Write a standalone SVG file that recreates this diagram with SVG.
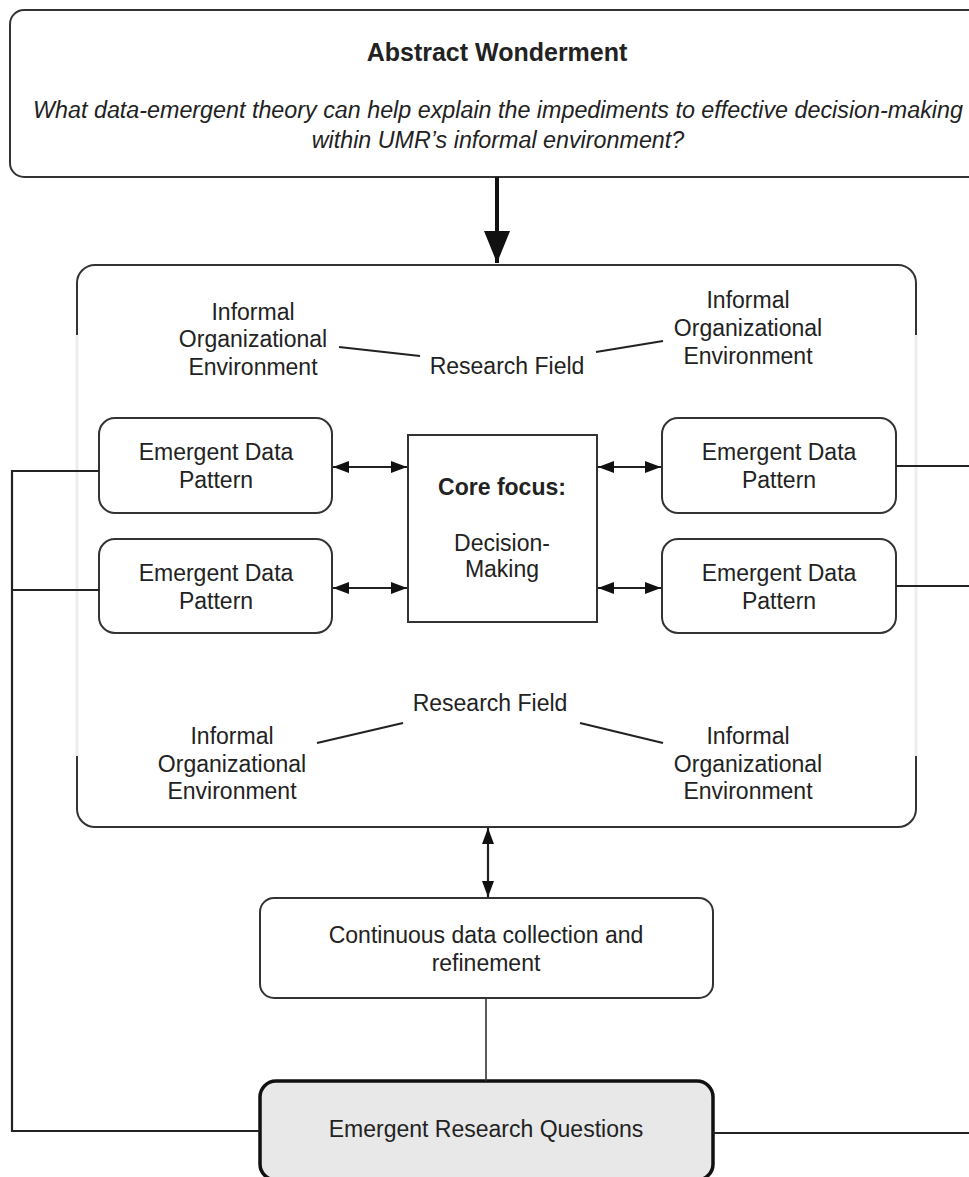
<svg xmlns="http://www.w3.org/2000/svg" width="969" height="1177" viewBox="0 0 969 1177">
  <style>
    .box { fill: #ffffff; stroke: #333333; stroke-width: 2; }
    .t { font-family: "Liberation Sans", Arial, sans-serif; font-size: 23px; fill: #222222; text-anchor: middle; }
    .b { font-weight: bold; }
    .title { font-size: 25px; }
    .i { font-style: italic; font-size: 23.3px; }
    .ln { fill: none; stroke: #222222; stroke-width: 2.2; }
    .thin { fill: none; stroke: #333333; stroke-width: 1.6; }
  </style>
  <defs>
    <marker id="head" viewBox="0 0 16 12" refX="16" refY="6" markerWidth="16" markerHeight="12" markerUnits="userSpaceOnUse" orient="auto-start-reverse">
      <path d="M0,0 L16,6 L0,12 z" fill="#111111"/>
    </marker>
    <marker id="bighead" viewBox="0 0 32 26" refX="32" refY="13" markerWidth="32" markerHeight="26" markerUnits="userSpaceOnUse" orient="auto">
      <path d="M0,0 L32,13 L0,26 z" fill="#111111"/>
    </marker>
  </defs>

  <rect width="969" height="1177" fill="#ffffff"/>

  <!-- top question box -->
  <g id="abstract-wonderment">
    <rect class="box" x="10" y="10" width="990" height="167" rx="14"/>
    <text class="t b title" x="497" y="61">Abstract Wonderment</text>
    <text class="t i" x="498" y="118">What data-emergent theory can help explain the impediments to effective decision-making</text>
    <text class="t i" x="498" y="148">within UMR’s informal environment?</text>
  </g>

  <!-- research field container -->
  <g id="research-field">
    <rect class="box" x="77" y="265" width="839" height="562" rx="18"/>
    <!-- faded middle stretch of the side borders -->
    <line x1="77" y1="335" x2="77" y2="756" stroke="#ededed" stroke-width="3"/>
    <line x1="916" y1="335" x2="916" y2="756" stroke="#ededed" stroke-width="3"/>
    <text class="t" x="507" y="374">Research Field</text>
    <text class="t" x="490" y="711">Research Field</text>
  </g>

  <g id="env-top-left">
    <text class="t" x="253" y="320">Informal</text>
    <text class="t" x="253" y="347">Organizational</text>
    <text class="t" x="253" y="375">Environment</text>
  </g>
  <g id="env-top-right">
    <text class="t" x="748" y="308">Informal</text>
    <text class="t" x="748" y="336">Organizational</text>
    <text class="t" x="748" y="364">Environment</text>
  </g>
  <g id="env-bottom-left">
    <text class="t" x="232" y="744">Informal</text>
    <text class="t" x="232" y="772">Organizational</text>
    <text class="t" x="232" y="799">Environment</text>
  </g>
  <g id="env-bottom-right">
    <text class="t" x="748" y="744">Informal</text>
    <text class="t" x="748" y="772">Organizational</text>
    <text class="t" x="748" y="799">Environment</text>
  </g>

  <!-- emergent data pattern nodes -->
  <g id="pattern-left-top">
    <rect class="box" x="99" y="418" width="233" height="95" rx="16"/>
    <text class="t" x="216" y="460">Emergent Data</text>
    <text class="t" x="216" y="488">Pattern</text>
  </g>
  <g id="pattern-left-bottom">
    <rect class="box" x="99" y="539" width="233" height="94" rx="16"/>
    <text class="t" x="216" y="581">Emergent Data</text>
    <text class="t" x="216" y="609">Pattern</text>
  </g>
  <g id="pattern-right-top">
    <rect class="box" x="662" y="418" width="234" height="95" rx="16"/>
    <text class="t" x="779" y="460">Emergent Data</text>
    <text class="t" x="779" y="488">Pattern</text>
  </g>
  <g id="pattern-right-bottom">
    <rect class="box" x="662" y="539" width="234" height="94" rx="16"/>
    <text class="t" x="779" y="581">Emergent Data</text>
    <text class="t" x="779" y="609">Pattern</text>
  </g>

  <!-- core focus -->
  <g id="core-focus">
    <rect class="box" x="408" y="435" width="189" height="187"/>
    <text class="t b" x="502" y="495">Core focus:</text>
    <text class="t" x="502" y="551">Decision-</text>
    <text class="t" x="502" y="577">Making</text>
  </g>

  <!-- data collection -->
  <g id="data-collection">
    <rect class="box" x="260" y="898" width="453" height="100" rx="14"/>
    <text class="t" x="486" y="943">Continuous data collection and</text>
    <text class="t" x="486" y="971">refinement</text>
  </g>

  <!-- emergent research questions -->
  <g id="research-questions">
    <rect x="260" y="1081" width="453" height="99" rx="16" fill="#e8e8e8" stroke="#111111" stroke-width="3.5"/>
    <text class="t" x="486" y="1137">Emergent Research Questions</text>
  </g>

  <!-- connectors -->
  <g id="connectors">
    <line x1="497" y1="177" x2="497" y2="263" stroke="#111111" stroke-width="4" marker-end="url(#bighead)"/>

    <line class="ln" x1="333" y1="467" x2="407" y2="467" marker-start="url(#head)" marker-end="url(#head)"/>
    <line class="ln" x1="333" y1="588" x2="407" y2="588" marker-start="url(#head)" marker-end="url(#head)"/>
    <line class="ln" x1="598" y1="467" x2="661" y2="467" marker-start="url(#head)" marker-end="url(#head)"/>
    <line class="ln" x1="598" y1="588" x2="661" y2="588" marker-start="url(#head)" marker-end="url(#head)"/>

    <line class="ln" x1="339" y1="347" x2="420" y2="356"/>
    <line class="ln" x1="596" y1="352" x2="663" y2="341"/>
    <line class="ln" x1="317" y1="743" x2="403" y2="723"/>
    <line class="ln" x1="580" y1="723" x2="663" y2="743"/>

    <line class="ln" x1="488" y1="828" x2="488" y2="897" marker-start="url(#head)" marker-end="url(#head)"/>
    <line class="thin" x1="486" y1="998" x2="486" y2="1081"/>

    <polyline class="ln" points="99,471 12,471 12,1131 260,1131"/>
    <line class="ln" x1="12" y1="590" x2="99" y2="590"/>
    <line class="ln" x1="896" y1="466" x2="969" y2="466"/>
    <line class="ln" x1="896" y1="586" x2="969" y2="586"/>
    <line class="ln" x1="713" y1="1133" x2="969" y2="1133"/>
  </g>
</svg>
